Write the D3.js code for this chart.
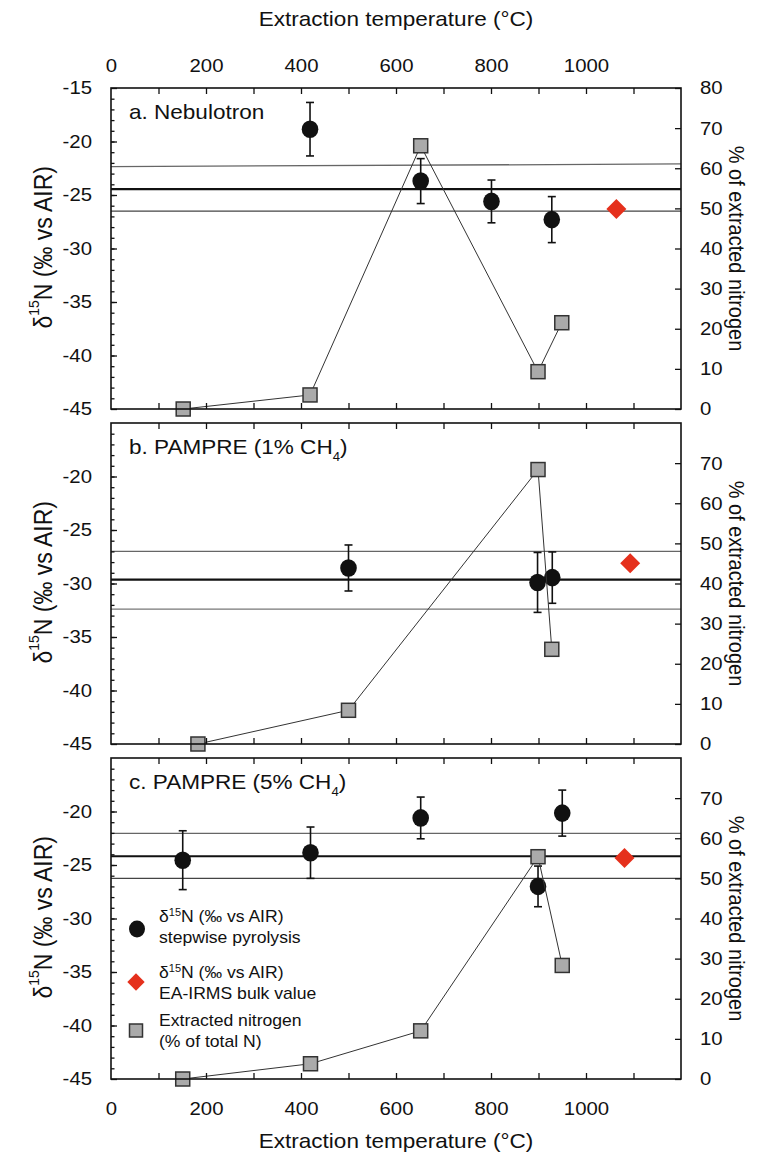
<!DOCTYPE html>
<html><head><meta charset="utf-8">
<script src="https://cdn.jsdelivr.net/npm/d3@7"></script>
<style>
body{margin:0;background:#fff;}
svg text{font-family:"Liberation Sans",Arial,Helvetica,sans-serif;fill:#111;}
</style></head><body>
<svg id="c" width="776" height="1162"></svg>
<script>
// ---------- data ----------
const panelNames = ["a. Nebulotron", "b. PAMPRE (1% CH", "c. PAMPRE (5% CH"];
const panelSubs  = ["", "4", "4"];
const panelTail  = ["", ")", ")"];

// stepwise pyrolysis δ15N (‰ vs AIR)
const stepTemp = [[419, 652, 801, 928], [500, 898, 929], [151, 420, 652, 899, 950]];
const stepD15N = [[-18.85, -23.7, -25.6, -27.3], [-28.55, -29.9, -29.45], [-24.55, -23.85, -20.6, -27.0, -20.15]];
const stepErr  = [[2.5, 2.1, 2.0, 2.15], [2.15, 2.8, 2.4], [2.75, 2.4, 1.95, 1.9, 2.15]];

// extracted nitrogen (% of total N)
const nTemp = [[152, 419, 652, 899, 949], [183, 500, 899, 928], [151, 420, 652, 899, 950]];
const nPct  = [[0, 3.5, 65.6, 9.3, 21.5], [0, 8.4, 68.4, 23.6], [0, 3.8, 12.0, 55.4, 28.3]];

// EA-IRMS bulk value
const bulkTemp = [1064, 1093, 1081];
const bulkD15N = [-26.3, -28.1, -24.35];

// reference lines: mean and ± band (upper may be slightly tilted: left,right)
const meanLine = [-24.45, -29.64, -24.18];
const upperL   = [-22.35, -27.0, -22.05];
const upperR   = [-22.1, -27.0, -22.05];
const lowerLn  = [-26.5, -32.4, -26.25];

const xLabelTicks = [0, 200, 400, 600, 800, 1000];
const xMinorTicks = [100, 200, 300, 400, 500, 600, 700, 800, 900, 1000, 1100];
const yLeftLabels = [[-45, -40, -35, -30, -25, -20, -15], [-45, -40, -35, -30, -25, -20], [-45, -40, -35, -30, -25, -20]];
const yRightLabels = [[0, 10, 20, 30, 40, 50, 60, 70, 80], [0, 10, 20, 30, 40, 50, 60, 70], [0, 10, 20, 30, 40, 50, 60, 70]];
const legendLines = [["δ", "15", "N (‰ vs AIR)", "stepwise pyrolysis"], ["δ", "15", "N (‰ vs AIR)", "EA-IRMS bulk value"], ["Extracted nitrogen", "", "", "(% of total N)"]];
const xTitle = "Extraction temperature (°C)";
const rightTitle = "% of extracted nitrogen";

// ---------- layout ----------
const X0 = 111, X1 = 681;
const panelTop = [88, 423, 758], PH = 321;
const SX = 1.1;
const x = d3.scaleLinear().domain([0, 1200]).range([X0, X1]);
const svg = d3.select("#c");
const plain = d => String(d);

function stretch(sel, ox, extra) {
  sel.style("transform-box", "fill-box")
     .style("transform-origin", ox + " 50%")
     .style("transform", `scaleX(${SX})` + (extra ? " " + extra : ""));
}
function styleAxis(g, size) {
  g.attr("font-family", null).attr("font-size", null);
  g.select(".domain").remove();
  g.selectAll("line").attr("stroke", "#111").attr("stroke-width", 1.3);
  g.selectAll("text").style("font-size", size + "px");
}

panelTop.forEach((top, i) => {
  const bot = top + PH;
  const yL = d3.scaleLinear().domain([-45, -15]).range([bot, top]);
  const yR = d3.scaleLinear().domain([0, 80]).range([bot, top]);
  const g = svg.append("g");

  // reference lines
  g.append("line").attr("x1", X0).attr("x2", X1).attr("y1", yL(upperL[i])).attr("y2", yL(upperR[i]))
    .attr("stroke", "#666").attr("stroke-width", 1.3);
  g.append("line").attr("x1", X0).attr("x2", X1).attr("y1", yL(lowerLn[i])).attr("y2", yL(lowerLn[i]))
    .attr("stroke", i === 1 ? "#777" : "#444").attr("stroke-width", 1.3);
  g.append("line").attr("x1", X0).attr("x2", X1).attr("y1", yL(meanLine[i])).attr("y2", yL(meanLine[i]))
    .attr("stroke", "#111").attr("stroke-width", 2.2);

  // error bars
  const steps = stepTemp[i].map((t, k) => ({t, v: stepD15N[i][k], e: stepErr[i][k]}));
  const eb = g.append("g").attr("stroke", "#111").attr("stroke-width", 1.6);
  steps.forEach(d => {
    eb.append("line").attr("x1", x(d.t)).attr("x2", x(d.t)).attr("y1", yL(d.v + d.e)).attr("y2", yL(d.v - d.e));
    [d.v + d.e, d.v - d.e].forEach(v => eb.append("line").attr("x1", x(d.t) - 4).attr("x2", x(d.t) + 4).attr("y1", yL(v)).attr("y2", yL(v)));
  });
  g.selectAll("ellipse.s").data(steps).join("ellipse")
    .attr("cx", d => x(d.t)).attr("cy", d => yL(d.v)).attr("rx", 8.3).attr("ry", 8.8).attr("fill", "#111");

  // extracted nitrogen
  const ns = nTemp[i].map((t, k) => [t, nPct[i][k]]);
  g.append("path").datum(ns).attr("d", d3.line().x(d => x(d[0])).y(d => yR(d[1])))
    .attr("fill", "none").attr("stroke", "#333").attr("stroke-width", 1);
  g.selectAll("rect.n").data(ns).join("rect")
    .attr("x", d => x(d[0]) - 7).attr("y", d => yR(d[1]) - 7).attr("width", 14).attr("height", 14)
    .attr("fill", "#aaa").attr("stroke", "#333").attr("stroke-width", 1.5);

  // bulk diamond
  g.append("path").attr("d", d3.symbol(d3.symbolSquare, 200)())
    .attr("transform", `translate(${x(bulkTemp[i])},${yL(bulkD15N[i])}) rotate(45)`)
    .attr("fill", "#e5301c");

  // frame
  g.append("rect").attr("x", X0).attr("y", top).attr("width", X1 - X0).attr("height", PH)
    .attr("fill", "none").attr("stroke", "#111").attr("stroke-width", 1.6);

  // left axis: minor + major
  g.append("g").attr("transform", `translate(${X0},0)`)
    .call(d3.axisLeft(yL).tickValues(d3.range(-44, -15, 1)).tickSize(-3.5).tickFormat(""))
    .call(a => styleAxis(a, 18.5));
  const la = g.append("g").attr("transform", `translate(${X0},0)`)
    .call(d3.axisLeft(yL).tickValues(yLeftLabels[i]).tickSize(-6).tickPadding(19).tickFormat(plain))
    .call(a => styleAxis(a, 18.5));
  stretch(la.selectAll("text"), "100%");
  // right axis
  const ra = g.append("g").attr("transform", `translate(${X1},0)`)
    .call(d3.axisRight(yR).tickValues(yRightLabels[i]).tickSize(-6).tickPadding(19).tickFormat(plain))
    .call(a => styleAxis(a, 18.5));
  stretch(ra.selectAll("text"), "0%");
  // x ticks top and bottom (inward)
  g.append("g").attr("transform", `translate(0,${top})`)
    .call(d3.axisTop(x).tickValues(xMinorTicks).tickSize(-6).tickFormat(""))
    .call(a => styleAxis(a, 18.5));
  g.append("g").attr("transform", `translate(0,${bot})`)
    .call(d3.axisBottom(x).tickValues(xMinorTicks).tickSize(-6).tickFormat(""))
    .call(a => styleAxis(a, 18.5));
  if (i === 0) {
    const ta = g.append("g").attr("transform", `translate(0,${top})`)
      .call(d3.axisTop(x).tickValues(xLabelTicks).tickSize(0).tickPadding(16).tickFormat(plain))
      .call(a => styleAxis(a, 18.5));
    stretch(ta.selectAll("text"), "50%");
  }
  if (i === 2) {
    const ba = g.append("g").attr("transform", `translate(0,${bot})`)
      .call(d3.axisBottom(x).tickValues(xLabelTicks).tickSize(0).tickPadding(23).tickFormat(plain))
      .call(a => styleAxis(a, 18.5));
    stretch(ba.selectAll("text"), "50%");
  }

  // panel label
  const pl = g.append("text").attr("x", 129).attr("y", top + 31).style("font-size", "20.5px").text(panelNames[i]);
  if (panelSubs[i]) {
    pl.append("tspan").attr("baseline-shift", "sub").style("font-size", "12px").text(panelSubs[i]);
    pl.append("tspan").text(panelTail[i]);
  }
  stretch(pl, "0%");

  // left title
  const lt = g.append("text").attr("x", 41).attr("y", (top + bot) / 2)
    .attr("text-anchor", "middle").attr("dominant-baseline", "central").style("font-size", "23px");
  lt.append("tspan").text("δ");
  lt.append("tspan").attr("baseline-shift", "super").style("font-size", "14px").text("15");
  lt.append("tspan").text("N (‰ vs AIR)");
  stretch(lt, "50%", "rotate(-90deg)");

  // right title
  const rt = g.append("text").attr("x", 737).attr("y", (top + bot) / 2)
    .attr("text-anchor", "middle").attr("dominant-baseline", "central").style("font-size", "20px").text(rightTitle);
  stretch(rt, "50%", "rotate(90deg)");
});

// axis titles
const tt = svg.append("text").attr("x", 396).attr("y", 26).attr("text-anchor", "middle").style("font-size", "20.5px").text(xTitle);
stretch(tt, "50%");
const bt = svg.append("text").attr("x", 396).attr("y", 1148).attr("text-anchor", "middle").style("font-size", "20.5px").text(xTitle);
stretch(bt, "50%");

// legend (panel c)
const lg = svg.append("g");
const legY = [922, 978, 1026];
lg.append("ellipse").attr("cx", 137).attr("cy", 929).attr("rx", 8).attr("ry", 8.5).attr("fill", "#111");
lg.append("path").attr("d", d3.symbol(d3.symbolSquare, 150)()).attr("transform", "translate(136,982) rotate(45)").attr("fill", "#e5301c");
lg.append("rect").attr("x", 129.5).attr("y", 1024).attr("width", 13).attr("height", 13).attr("fill", "#aaa").attr("stroke", "#333").attr("stroke-width", 1.5);
legendLines.forEach((l, k) => {
  const t1 = lg.append("text").attr("x", 159).attr("y", legY[k]).style("font-size", "16px");
  t1.append("tspan").text(l[0]);
  if (l[1]) {
    t1.append("tspan").attr("baseline-shift", "super").style("font-size", "10px").text(l[1]);
    t1.append("tspan").text(l[2]);
  }
  stretch(t1, "0%");
  const t2 = lg.append("text").attr("x", 159).attr("y", legY[k] + 21).style("font-size", "16px").text(l[3]);
  stretch(t2, "0%");
});
</script>
</body></html>
